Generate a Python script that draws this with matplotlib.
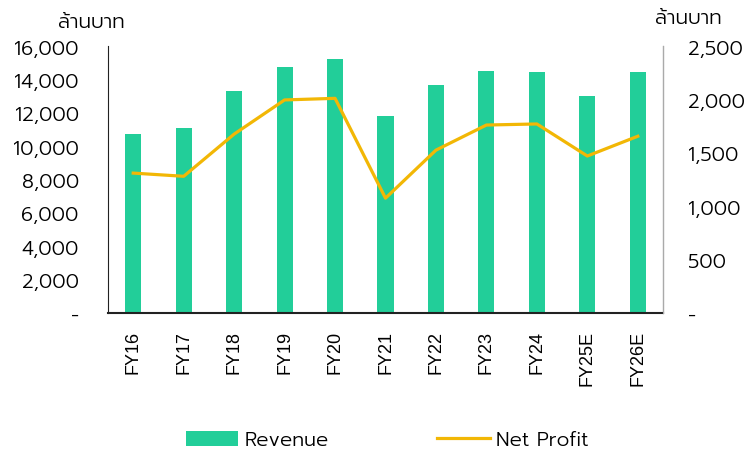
import matplotlib
matplotlib.use("Agg")
import matplotlib.pyplot as plt
from matplotlib.ticker import FuncFormatter

years = ["FY16", "FY17", "FY18", "FY19", "FY20", "FY21", "FY22", "FY23", "FY24", "FY25E", "FY26E"]
revenue = [10700, 11100, 13300, 14750, 15200, 11800, 13650, 14500, 14450, 13000, 14450]
net_profit = [1310, 1280, 1675, 1995, 2010, 1075, 1525, 1760, 1770, 1470, 1655]

green = "#22CE99"
gold = "#F2B705"

plt.rcParams["font.family"] = ["Prompt", "Kanit", "DejaVu Sans"]
plt.rcParams["font.weight"] = 300


def fmt(v, pos):
    return "-" if v == 0 else f"{v:,.0f}"


fig = plt.figure(figsize=(7.48, 4.52), dpi=100)
ax = fig.add_axes([108 / 748, 1 - 314 / 452, 555 / 748, 267 / 452])
ax2 = ax.twinx()

x = range(len(years))
ax.bar(x, revenue, width=0.32, color=green, label="Revenue", zorder=2)
ax2.plot(x, net_profit, color=gold, lw=2.3, label="Net Profit")

ax.set_xlim(-0.5, len(years) - 0.5)
ax.set_ylim(0, 16000)
ax2.set_ylim(0, 2500)
ax.set_yticks(range(0, 16001, 2000))
ax2.set_yticks(range(0, 2501, 500))
ax.yaxis.set_major_formatter(FuncFormatter(fmt))
ax2.yaxis.set_major_formatter(FuncFormatter(fmt))

ax.set_xticks(list(x))
ax.set_xticklabels(years, rotation=90, fontsize=13, family="Liberation Sans", fontweight="normal")
ax.tick_params(axis="x", length=0, pad=12)
ax.tick_params(axis="y", length=0, labelsize=14.5, pad=21)
ax2.tick_params(axis="y", length=0, labelsize=14.5, pad=18)

ax.spines["top"].set_visible(False)
ax2.spines["top"].set_visible(False)
ax.spines["left"].set_color("#222222")
ax.spines["bottom"].set_color("#222222")
ax.spines["bottom"].set_linewidth(1.5)
ax2.spines["right"].set_color("#aaaaaa")
ax2.spines["left"].set_visible(False)
ax2.spines["bottom"].set_visible(False)

fig.text(91 / 748, 1 - 22 / 452, "ล้านบาท", ha="center", va="center", fontsize=14.5)
fig.text(688 / 748, 1 - 18 / 452, "ล้านบาท", ha="center", va="center", fontsize=14.5)

h1, l1 = ax.get_legend_handles_labels()
h2, l2 = ax2.get_legend_handles_labels()
fig.legend(h1 + h2, l1 + l2, loc="center", bbox_to_anchor=(387 / 748, 1 - 441 / 452),
           ncol=2, frameon=False, fontsize=14.5, handlelength=2.6, handleheight=0.75,
           columnspacing=5.4, handletextpad=0.3)

fig.savefig("out.png", dpi=100)
